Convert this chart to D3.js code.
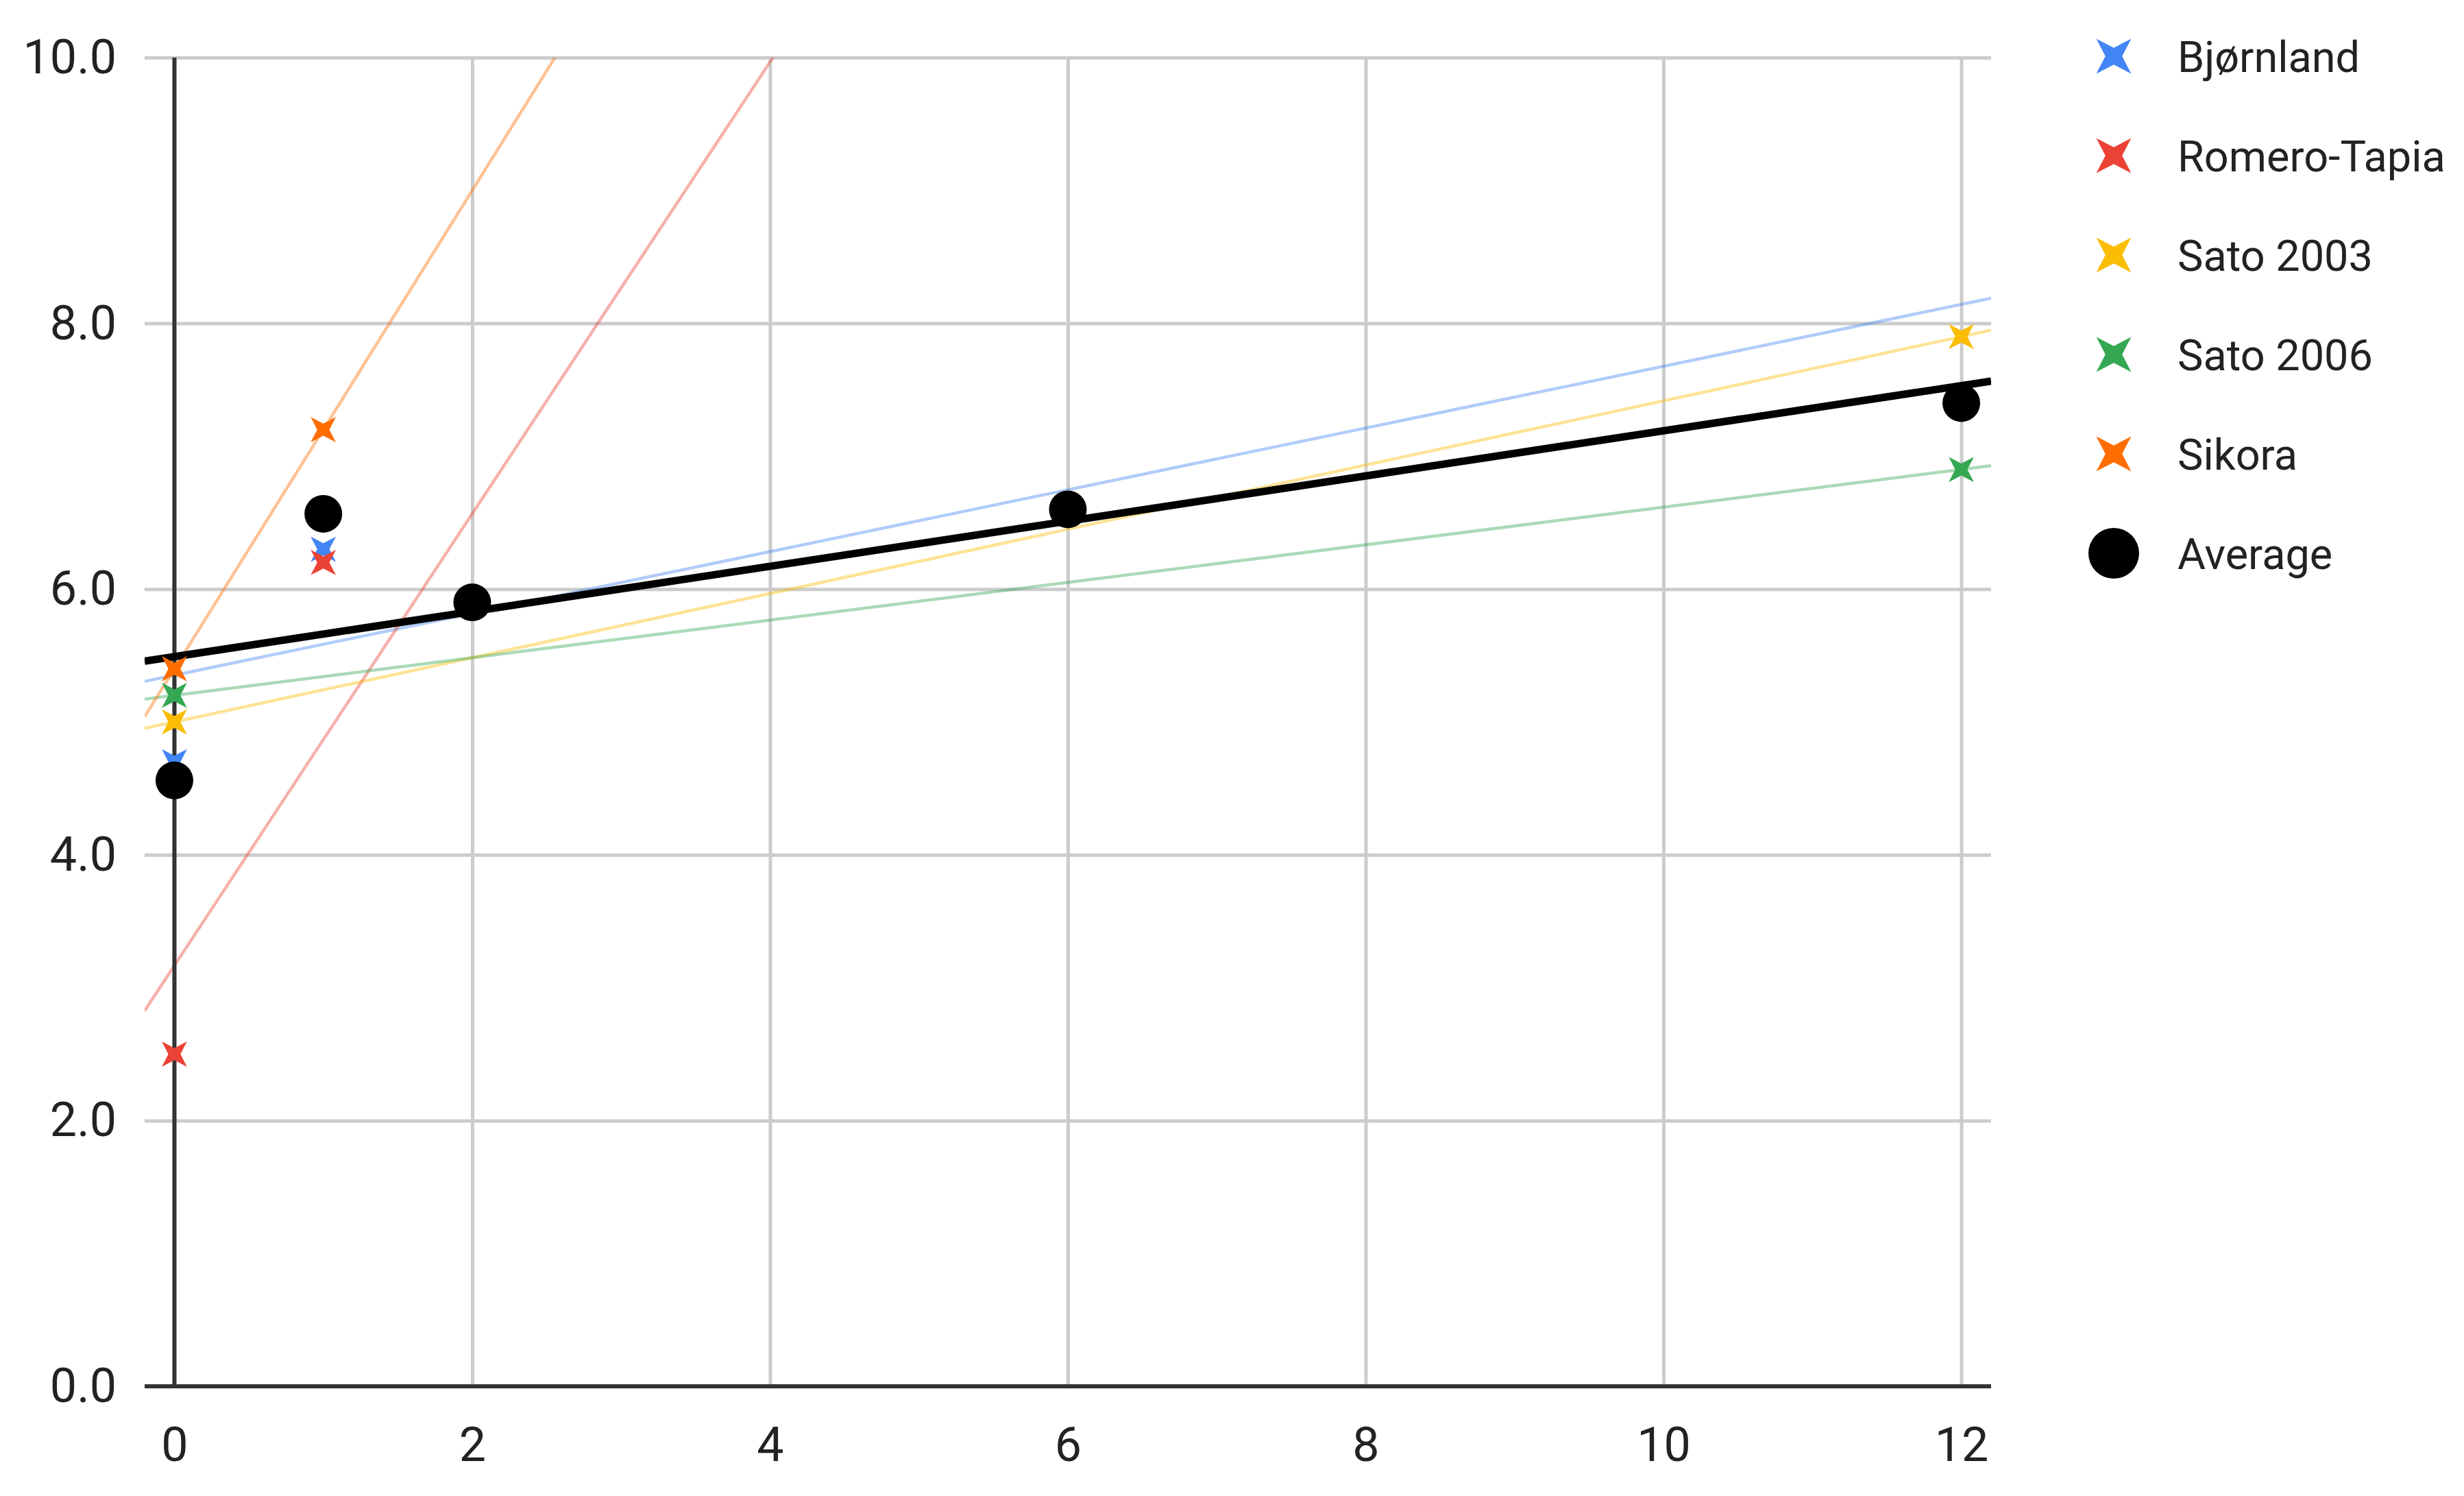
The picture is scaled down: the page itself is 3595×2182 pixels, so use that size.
<!DOCTYPE html>
<html>
<head>
<meta charset="utf-8">
<style type="text/css">
html, body{
	padding: 0;
	margin: 0;
	background: white;
}
text {
	font-family: Roboto, "Noto Sans", sans-serif;
	fill: #222;
}
</style>
<script src="https://cdn.jsdelivr.net/npm/d3@7"></script>
</head>
<body>
<svg width=3595 height=2182></svg>

<script type="text/javascript">
// data
const xs = [0, 1, 2, 6, 12];
const seriesNames = ['Bjørnland', 'Romero-Tapia', 'Sato 2003', 'Sato 2006', 'Sikora'];
const bjornland = [4.7, 6.3, 5.9, 6.6, null];
const romeroTapia = [2.5, 6.2, 5.9, null, null];
const sato2003 = [5.0, null, null, null, 7.9];
const sato2006 = [5.2, null, null, null, 6.9];
const sikora = [5.4, 7.2, null, null, null];
const seriesColors = ['#4285F4', '#EA4335', '#FBBC04', '#34A853', '#FF6D01'];
const xTicks = [0, 2, 4, 6, 8, 10, 12];
const yTicks = [0, 2, 4, 6, 8, 10];

const seriesValues = [bjornland, romeroTapia, sato2003, sato2006, sikora];

// average of whatever series have a value at that x
const average = xs.map((d, i) => {
	const vals = seriesValues.map(s => s[i]).filter(v => v != null);
	return vals.length ? d3.mean(vals) : null;
});

const svg = d3.select('svg');
const pLeft = 211, pRight = 2905, pTop = 84, pBottom = 2022;

const x = d3.scaleLinear().domain([-0.2, 12.2]).range([pLeft, pRight]);
const y = d3.scaleLinear().domain([0, 10]).range([pBottom, pTop]);

svg.append('defs').append('clipPath').attr('id', 'plot')
	.append('rect')
	.attr('x', pLeft).attr('y', pTop)
	.attr('width', pRight - pLeft).attr('height', pBottom - pTop);

// grid + tick labels
const gy = svg.append('g')
	.attr('transform', `translate(${pLeft},0)`)
	.call(d3.axisLeft(y).tickValues(yTicks).tickFormat(d3.format('.1f'))
		.tickSize(-(pRight - pLeft)).tickPadding(41));
const gx = svg.append('g')
	.attr('transform', `translate(0,${pBottom})`)
	.call(d3.axisBottom(x).tickValues(xTicks).tickFormat(d3.format('d'))
		.tickSize(-(pBottom - pTop)).tickPadding(59));

[gx, gy].forEach(g => {
	g.select('.domain').remove();
	g.selectAll('line').attr('stroke', '#cccccc').attr('stroke-width', 5);
	g.selectAll('text').style('font-size', '70px').attr('fill', '#222');
});

// least squares line
function fit(values) {
	const pts = xs.map((d, i) => [d, values[i]]).filter(p => p[1] != null);
	const mx = d3.mean(pts, p => p[0]), my = d3.mean(pts, p => p[1]);
	const sxy = d3.sum(pts, p => (p[0] - mx) * (p[1] - my));
	const sxx = d3.sum(pts, p => (p[0] - mx) * (p[0] - mx));
	const slope = sxy / sxx;
	return t => my + slope * (t - mx);
}

const trend = svg.append('g').attr('clip-path', 'url(#plot)');
const ends = x.domain();
seriesValues.forEach((s, i) => {
	const f = fit(s);
	trend.append('line')
		.attr('x1', x(ends[0])).attr('y1', y(f(ends[0])))
		.attr('x2', x(ends[1])).attr('y2', y(f(ends[1])))
		.attr('stroke', seriesColors[i])
		.attr('stroke-opacity', 0.42)
		.attr('stroke-width', 4.5);
});

// baselines
svg.append('line')
	.attr('x1', x(0)).attr('x2', x(0)).attr('y1', pTop).attr('y2', pBottom)
	.attr('stroke', '#333').attr('stroke-width', 6);
svg.append('line')
	.attr('x1', pLeft).attr('x2', pRight).attr('y1', pBottom).attr('y2', pBottom)
	.attr('stroke', '#333').attr('stroke-width', 6);

const fa = fit(average);
svg.append('g').attr('clip-path', 'url(#plot)').append('line')
	.attr('x1', x(ends[0])).attr('y1', y(fa(ends[0])))
	.attr('x2', x(ends[1])).attr('y2', y(fa(ends[1])))
	.attr('stroke', 'black')
	.attr('stroke-width', 11);

// four pointed star turned 45 degrees
function starPath(R) {
	const pts = d3.range(8).map(k => {
		const a = Math.PI / 4 + k * Math.PI / 4;
		const r = k % 2 === 0 ? R : R * 0.34;
		return [r * Math.cos(a), r * Math.sin(a)];
	});
	return d3.line().curve(d3.curveLinearClosed)(pts);
}

seriesValues.forEach((s, i) => {
	svg.append('g').selectAll('path')
		.data(xs.map((d, j) => ({x: d, y: s[j]})).filter(d => d.y != null))
		.enter()
		.append('path')
		.attr('d', starPath(26))
		.attr('transform', d => `translate(${x(d.x)},${y(d.y)})`)
		.style('fill', seriesColors[i]);
});

svg.append('g').selectAll('circle')
	.data(xs.map((d, j) => ({x: d, y: average[j]})).filter(d => d.y != null))
	.enter()
	.append('circle')
	.attr('cx', d => x(d.x))
	.attr('cy', d => y(d.y))
	.attr('r', 27.5)
	.style('fill', 'black');

// legend
const legend = svg.append('g').attr('transform', 'translate(3084,82)');
const items = seriesNames.map((n, i) => ({name: n, color: seriesColors[i]}))
	.concat([{name: 'Average', color: 'black', circle: true}]);
const row = legend.selectAll('g').data(items).enter().append('g')
	.attr('transform', (d, i) => `translate(0,${i * 145})`);
row.filter(d => !d.circle).append('path')
	.attr('d', starPath(36))
	.style('fill', d => d.color);
row.filter(d => d.circle).append('circle')
	.attr('r', 37)
	.style('fill', 'black');
row.append('text')
	.attr('x', 93)
	.attr('dy', '0.36em')
	.style('font-size', '63px')
	.text(d => d.name);
</script>
</body>
</html>
